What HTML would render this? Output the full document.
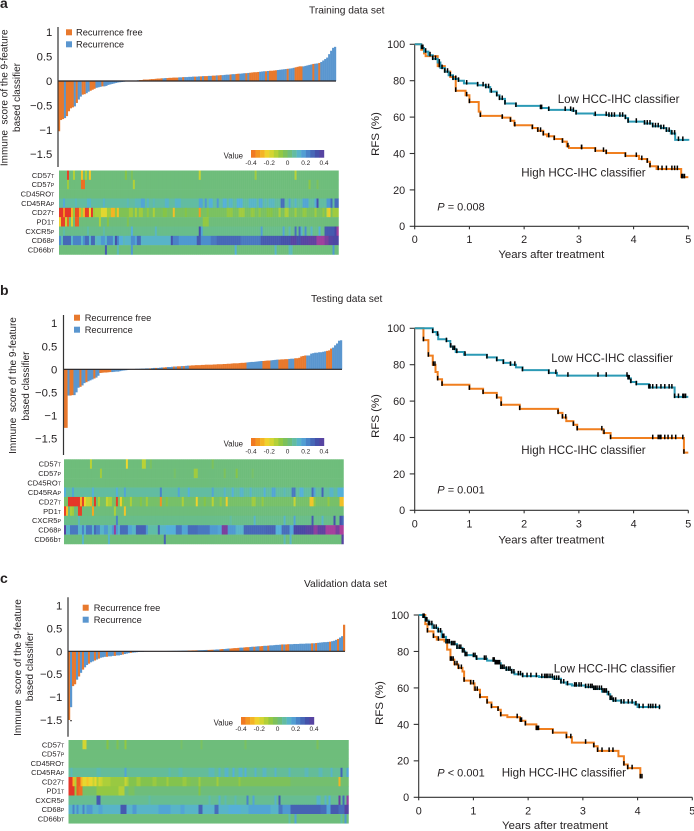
<!DOCTYPE html>
<html lang="en">
<head>
<meta charset="utf-8">
<title>Immune score classifier and recurrence-free survival</title>
<style>
html,body{margin:0;padding:0;background:#fff;}
svg{display:block;font-family:"Liberation Sans",Arial,sans-serif;fill:#231f20;filter:blur(0.3px);}
</style>
</head>
<body>
<svg id="figure" xmlns="http://www.w3.org/2000/svg" width="694" height="831" viewBox="0 0 694 831">
  <rect x="0" y="0" width="694" height="831" fill="#fff"/>

  <text x="0" y="8" font-size="14" font-weight="bold">a</text>
  <text x="0" y="295" font-size="14" font-weight="bold">b</text>
  <text x="0" y="583" font-size="14" font-weight="bold">c</text>

  <text x="309" y="13.5" font-size="10.2">Training data set</text>
  <text x="311" y="302" font-size="10.2">Testing data set</text>
  <text x="304" y="587" font-size="10.2">Validation data set</text>

  <text transform="translate(7.7,97.8) rotate(-90)" text-anchor="middle" font-size="10">Immune&#160; score of the 9-feature</text>
  <text transform="translate(20,97.5) rotate(-90)" text-anchor="middle" font-size="10">based classifier</text>
  <text transform="translate(16,385.5) rotate(-90)" text-anchor="middle" font-size="10">Immune&#160; score of the 9-feature</text>
  <text transform="translate(29,386) rotate(-90)" text-anchor="middle" font-size="10">based classifier</text>
  <text transform="translate(21,667.5) rotate(-90)" text-anchor="middle" font-size="10">Immune&#160; score of the 9-feature</text>
  <text transform="translate(33,666.7) rotate(-90)" text-anchor="middle" font-size="10">based classifier</text>

  <rect x="66" y="29.3" width="6" height="6" fill="#e8792d"/>
  <text x="76" y="35.7" font-size="9.3">Recurrence free</text>
  <rect x="66" y="41.3" width="6" height="6" fill="#5a96cf"/>
  <text x="76" y="47.5" font-size="9.3">Recurrence</text>
  <rect x="74" y="314.7" width="6" height="6" fill="#e8792d"/>
  <text x="84.7" y="321" font-size="9.3">Recurrence free</text>
  <rect x="74" y="326.7" width="6" height="6" fill="#5a96cf"/>
  <text x="84.7" y="333" font-size="9.3">Recurrence</text>
  <rect x="82.7" y="604.7" width="6" height="6" fill="#e8792d"/>
  <text x="93.7" y="611" font-size="9.3">Recurrence free</text>
  <rect x="82.7" y="616.7" width="6" height="6" fill="#5a96cf"/>
  <text x="93.7" y="623" font-size="9.3">Recurrence</text>

  <text x="243" y="158.3" text-anchor="end" font-size="7.8">Value</text>
  <text x="243" y="446.7" text-anchor="end" font-size="7.8">Value</text>
  <text x="233" y="725.7" text-anchor="end" font-size="7.8">Value</text>

  <text transform="translate(379,134) rotate(-90)" text-anchor="middle" font-size="11.4">RFS (%)</text>
  <text transform="translate(379,416) rotate(-90)" text-anchor="middle" font-size="11.4">RFS (%)</text>
  <text transform="translate(383,703) rotate(-90)" text-anchor="middle" font-size="11.4">RFS (%)</text>
  <text x="551.3" y="258" text-anchor="middle" font-size="11.4">Years after treatment</text>
  <text x="551.3" y="543.5" text-anchor="middle" font-size="11.4">Years after treatment</text>
  <text x="555" y="829" text-anchor="middle" font-size="11.4">Years after treatment</text>

  <text x="557.7" y="103" font-size="11.6">Low HCC-IHC classifier</text>
  <text x="521.3" y="176.7" font-size="11.6">High HCC-IHC classifier</text>
  <text x="437.3" y="210.7" font-size="11"><tspan font-style="italic">P</tspan> = 0.008</text>
  <text x="551.3" y="362" font-size="11.6">Low HCC-IHC classifier</text>
  <text x="521.3" y="454" font-size="11.6">High HCC-IHC classifier</text>
  <text x="437.3" y="493.3" font-size="11"><tspan font-style="italic">P</tspan> = 0.001</text>
  <text x="553.7" y="672.3" font-size="11.6">Low HCC-IHC classifier</text>
  <text x="501.7" y="776.7" font-size="11.6">High HCC-IHC classifier</text>
  <text x="437.3" y="776.7" font-size="11"><tspan font-style="italic">P</tspan> &lt; 0.001</text>

  <rect x="70" y="720.3" width="2" height="0.9" fill="#231f20"/>
</svg>

<script>
// ---------- shared tick labels ----------
const scoreTicks = [1, 0.5, 0, -0.5, -1, -1.5];
const scoreTickLabels = ['1', '0.5', '0', '\u22120.5', '\u22121', '\u22121.5'];
const rfsTicks = [0, 20, 40, 60, 80, 100];
const yearTicks = [0, 1, 2, 3, 4, 5];
const colorbarTicks = [-0.4, -0.2, 0, 0.2, 0.4];
const colorbarSteps = [-0.4, -0.35, -0.3, -0.25, -0.2, -0.15, -0.1, -0.05, 0, 0.05, 0.1, 0.15, 0.2, 0.25, 0.3, 0.36];
const heatRowNames = ['CD57', 'CD57', 'CD45RO', 'CD45RA', 'CD27', 'PD1', 'CXCR5', 'CD68', 'CD66b'];
const heatRowSuffixes = ['T', 'P', 'T', 'P', 'T', 'T', 'P', 'P', 'T'];

// ---------- waterfall scores, one per patient column ----------
const scoresA = [-1.03,-.8,-.78,-.76,-.72,-.62,-.56,-.54,-.52,-.45,-.38,-.32,-.28,-.27,-.25,-.22,-.2,-.18,-.16,-.14,-.13,-.12,-.11,-.11,-.1,-.08,-.07,-.06,-.05,-.04,-.03,-.025,-.02,-.015,-.01,-.005,.005,.005,.01,.01,.015,.02,.02,.03,.03,.03,.035,.04,.04,.045,.05,.05,.055,.055,.06,.06,.065,.065,.07,.07,.07,.075,.075,.08,.08,.08,.085,.085,.09,.09,.09,.095,.095,.1,.1,.1,.105,.105,.11,.11,.115,.115,.12,.12,.125,.13,.13,.135,.14,.14,.145,.15,.15,.155,.16,.16,.165,.17,.175,.18,.18,.185,.19,.195,.2,.2,.205,.21,.21,.215,.22,.225,.23,.235,.24,.245,.25,.255,.26,.27,.28,.29,.3,.3,.3,.31,.32,.33,.34,.35,.355,.36,.37,.39,.42,.45,.48,.55,.62,.68,.7];
const recurrenceFreeA = [[0,2],[4,7],[9,9],[12,13],[16,18],[22,22],[41,44],[45,49],[50,52],[55,58],[59,59],[60,60],[63,63],[69,69],[72,72],[74,75],[78,79],[81,82],[87,87],[90,91],[95,95],[97,101],[105,105],[107,110],[116,116],[120,123],[129,129],[132,132]];
const scoresB = [-1.27,-1.27,-.57,-.57,-.56,-.56,-.5,-.4,-.38,-.35,-.3,-.28,-.26,-.24,-.22,-.2,-.18,-.14,-.08,-.075,-.07,-.07,-.065,-.06,-.06,-.055,-.05,-.05,-.04,-.03,-.025,-.02,-.01,-.005,.005,.005,.01,.01,.012,.015,.015,.02,.02,.02,.025,.03,.03,.03,.035,.04,.04,.045,.05,.05,.055,.06,.06,.065,.065,.07,.07,.075,.08,.08,.085,.085,.09,.09,.09,.095,.095,.1,.1,.1,.1,.105,.105,.11,.11,.11,.115,.115,.12,.12,.125,.13,.13,.13,.135,.14,.14,.145,.15,.155,.16,.16,.165,.17,.175,.18,.18,.185,.19,.19,.195,.2,.205,.21,.21,.215,.215,.22,.22,.225,.23,.23,.24,.24,.25,.28,.29,.3,.3,.3,.34,.35,.36,.36,.37,.37,.38,.39,.4,.41,.45,.47,.52,.56,.62,.63];
const recurrenceFreeB = [[0,1],[3,4],[8,8],[11,11],[15,15],[18,23],[43,43],[46,46],[50,51],[55,55],[57,58],[60,60],[63,69],[70,84],[85,91],[100,103],[108,110],[111,112],[116,121],[132,134]];
const scoresC = [-1.5,-1.22,-.76,-.72,-.62,-.55,-.47,-.4,-.35,-.3,-.27,-.24,-.22,-.2,-.18,-.16,-.14,-.13,-.12,-.12,-.11,-.11,-.1,-.1,-.09,-.09,-.08,-.07,-.06,-.05,-.04,-.035,-.03,-.025,-.02,-.015,-.01,-.01,-.005,-.005,-.003,-.002,.001,.002,.003,.004,.005,.005,.006,.007,.008,.008,.009,.01,.01,.012,.012,.014,.015,.016,.018,.018,.02,.02,.022,.024,.025,.026,.028,.03,.03,.032,.034,.035,.04,.04,.045,.05,.05,.055,.06,.06,.065,.07,.07,.075,.08,.08,.085,.09,.09,.095,.1,.1,.105,.11,.11,.115,.12,.12,.125,.13,.13,.135,.14,.14,.145,.15,.15,.15,.155,.155,.155,.16,.16,.16,.165,.165,.165,.17,.17,.17,.175,.175,.18,.185,.19,.195,.2,.2,.205,.21,.22,.23,.25,.27,.3,.33,.58];
const recurrenceFreeC = [[0,0],[2,3],[5,5],[7,7],[10,10],[13,13],[15,15],[19,19],[23,23],[27,27],[31,31],[60,64],[70,72],[76,77],[81,85],[88,90],[93,93],[96,97],[100,100],[107,107],[109,110],[122,122],[124,124],[131,131],[135,135],[138,138]];

// ---------- heatmap values as [firstColumn, lastColumn, value]; unlisted columns are 0 ----------
const heatA_CD57T = [[4,4,-.5],[7,7,-.15],[11,11,-.28],[13,13,-.14],[15,15,-.27],[33,33,-.08],[36,36,-.05],[70,70,-.18],[98,98,-.12],[118,118,-.16]];
const heatA_CD57P = [[4,4,-.12],[11,12,-.42],[37,37,-.15],[125,125,-.09],[129,129,-.05]];
const heatA_CD45RO = [];
const heatA_CD45RA = [[0,139,.05],[2,2,.13],[8,8,.08],[14,15,.1],[22,22,.1],[34,34,.08],[38,40,.08],[41,42,.14],[44,44,.1],[47,47,.08],[53,54,.1],[58,60,.1],[70,71,.14],[73,73,.16],[75,76,.12],[79,79,.16],[82,83,.12],[85,86,.1],[89,91,.12],[95,98,.1],[100,101,.13],[103,103,.08],[105,107,.09],[111,112,.24],[115,115,.14],[118,118,.1],[122,124,.14],[128,128,.13],[129,129,.3],[134,135,.16],[136,136,.25],[138,139,.24]];
const heatA_CD27 = [[0,139,-.04],[0,1,-.52],[2,2,-.36],[3,5,-.52],[6,6,-.3],[7,7,-.1],[8,9,-.48],[10,10,-.32],[11,11,-.12],[12,12,-.3],[13,14,-.5],[15,15,-.24],[16,16,-.52],[17,17,-.12],[18,20,-.14],[21,23,-.22],[24,25,-.12],[26,27,-.3],[28,28,-.1],[29,29,-.28],[30,34,-.06],[35,36,-.12],[38,38,-.14],[40,41,-.12],[44,44,-.1],[47,47,-.14],[52,53,-.08],[57,57,-.28],[63,63,-.08],[70,70,-.34],[74,74,-.08],[84,86,-.1],[90,92,-.12],[96,97,-.1],[100,100,-.1],[104,106,-.08],[110,110,-.14],[113,114,-.14],[118,118,-.12],[122,123,-.1],[128,128,-.12],[132,132,-.1],[134,134,-.2],[135,135,-.26],[137,139,-.12]];
const heatA_PD1 = [[0,0,-.25],[1,2,-.5],[3,3,-.18],[4,4,-.44],[6,6,-.2],[8,9,-.45],[20,20,-.14],[24,24,-.08],[34,34,-.06],[72,74,-.1]];
const heatA_CXCR5 = [[0,139,.02],[2,2,.06],[14,14,.06],[22,22,.06],[36,36,.12],[48,48,.09],[70,70,.3],[71,71,.14],[101,101,.15],[112,112,.14],[115,115,.08],[118,118,.24],[120,120,.24],[121,121,.1],[123,123,.18],[126,126,.1],[130,130,.12],[133,137,.28],[138,138,.32],[139,139,.46]];
const heatA_CD68 = [[0,139,.1],[0,0,.18],[1,1,.08],[2,5,.25],[6,6,.1],[7,10,.2],[11,11,.1],[12,12,.18],[13,14,.24],[15,15,.1],[16,17,.25],[18,18,.08],[21,22,.16],[24,26,.2],[27,27,.1],[28,28,.3],[29,29,.2],[30,31,.12],[32,32,.08],[36,37,.18],[38,38,.14],[39,40,.24],[41,41,.1],[46,52,.1],[56,56,.3],[57,59,.2],[60,68,.16],[69,70,.28],[71,75,.18],[76,78,.22],[79,90,.25],[91,100,.22],[101,110,.28],[111,115,.3],[116,118,.36],[119,120,.3],[121,124,.36],[125,128,.38],[129,132,.46],[133,134,.42],[135,136,.36],[137,139,.34]];
const heatA_CD66b = [[23,23,.28],[29,29,.08],[36,36,.16],[88,88,.12],[108,108,.1],[115,116,.08],[137,137,.16]];

const heatB_CD57T = [[13,13,-.16],[31,31,-.24],[39,40,-.16],[43,43,-.04],[74,74,-.05]];
const heatB_CD57P = [[18,18,-.12],[55,55,-.03],[65,66,-.12],[80,80,-.05],[86,86,-.08],[94,94,-.03]];
const heatB_CD45RO = [];
const heatB_CD45RA = [[0,139,.05],[0,0,.12],[4,4,.14],[14,14,.12],[26,26,.12],[30,30,.14],[48,48,.2],[57,57,.14],[62,62,.12],[74,74,.14],[80,80,.1],[84,84,.12],[88,89,.1],[93,93,.1],[100,100,.12],[104,105,.14],[110,110,.08],[114,115,.22],[118,119,.12],[124,124,.24],[125,125,.14],[129,129,.26],[133,134,.1],[137,138,.12],[139,139,.12]];
const heatB_CD27 = [[0,139,-.03],[2,7,-.52],[8,8,-.3],[9,9,-.5],[10,10,-.25],[11,12,-.18],[13,13,-.3],[15,15,-.52],[17,17,-.14],[21,21,-.18],[22,23,-.14],[26,26,-.5],[28,28,-.25],[29,29,-.08],[33,33,-.14],[38,38,-.08],[41,41,-.12],[48,48,-.36],[51,51,-.08],[59,59,-.14],[66,66,-.25],[70,70,-.08],[74,74,-.16],[78,78,-.1],[81,81,-.26],[94,95,-.12],[99,99,-.1],[115,115,-.18],[123,124,-.27],[125,125,-.1],[132,132,-.1],[138,139,-.28]];
const heatB_PD1 = [[0,0,-.5],[1,1,-.28],[3,3,-.14],[4,4,-.12],[7,8,-.5],[14,14,-.32],[25,25,-.14],[30,30,-.27]];
const heatB_CXCR5 = [[0,139,.02],[7,7,.08],[26,26,.2],[83,83,.05],[95,95,.1],[110,110,.1],[115,115,.14],[124,124,.28],[129,129,.1],[135,135,.3],[138,138,.3],[139,139,.25]];
const heatB_CD68 = [[0,139,.1],[0,0,.36],[1,2,.1],[3,6,.22],[7,8,.1],[9,9,.2],[11,13,.22],[14,14,.1],[15,15,.25],[16,17,.2],[18,19,.1],[20,21,.16],[22,22,.08],[24,24,.16],[25,25,.45],[26,26,.16],[27,27,.1],[28,31,.24],[32,33,.14],[34,35,.1],[36,40,.26],[41,41,.16],[42,46,.06],[47,47,.26],[48,50,.1],[51,55,.12],[56,58,.22],[59,61,.14],[62,66,.24],[67,72,.22],[73,76,.16],[77,78,.14],[79,81,.42],[82,85,.16],[86,89,.1],[90,100,.25],[101,105,.26],[106,108,.12],[109,112,.24],[113,114,.14],[115,120,.33],[121,124,.36],[125,126,.44],[127,130,.38],[131,135,.47],[136,137,.42],[138,139,.48]];
const heatB_CD66b = [[9,9,.1],[22,22,.1],[50,50,.26],[110,110,.08],[113,113,.1],[139,139,.36]];

const heatC_CD57T = [[7,8,-.2],[19,19,-.08],[24,24,-.06],[28,28,-.1],[56,56,-.03],[66,66,-.04],[88,88,-.04],[124,124,-.05]];
const heatC_CD57P = [];
const heatC_CD45RO = [];
const heatC_CD45RA = [[0,139,.04],[1,1,.08],[14,15,.07],[28,28,.14],[50,50,.07],[55,56,.07],[70,72,.08],[75,75,.1],[78,79,.1],[82,82,.12],[85,86,.1],[88,88,.12],[93,93,.1],[97,98,.09],[103,103,.1],[110,110,.09],[118,119,.08],[125,126,.08],[131,131,.1],[136,136,.26],[139,139,.14]];
const heatC_CD27 = [[0,139,-.02],[0,1,-.52],[2,2,-.3],[3,3,-.15],[4,5,-.45],[6,6,-.3],[7,13,-.23],[9,9,-.27],[12,12,-.18],[14,14,-.14],[15,15,-.2],[16,16,-.18],[17,20,-.14],[21,27,-.11],[28,28,-.18],[29,29,-.14],[30,60,-.07],[34,35,-.12],[42,43,-.11],[49,49,-.12],[57,58,-.11],[61,110,-.05],[65,65,-.12],[74,74,-.12],[85,85,-.1],[135,135,-.3]];
const heatC_PD1 = [[0,2,-.52],[3,3,-.1],[4,4,-.45],[5,6,-.42],[7,13,-.03],[14,24,-.1],[25,27,-.15],[30,32,-.04],[65,65,-.08]];
const heatC_CXCR5 = [[0,139,.03],[14,15,.28],[40,40,.06],[70,70,.07],[75,75,.1],[78,78,.07],[83,83,.07],[89,89,.2],[92,92,.14],[105,105,.28],[103,103,.1],[124,125,.1],[128,128,.1],[130,130,.12],[135,135,.4],[137,137,.25],[139,139,.45]];
const heatC_CD68 = [[0,139,.1],[2,2,.2],[4,4,.18],[7,7,.2],[9,11,.16],[15,16,.14],[26,28,.28],[32,33,.16],[45,50,.14],[56,57,.14],[65,66,.26],[73,74,.24],[80,85,.12],[90,100,.14],[105,106,.22],[107,110,.16],[111,125,.26],[126,128,.24],[129,130,.14],[131,134,.28],[135,137,.24],[138,139,.36]];
const heatC_CD66b = [[110,110,.06],[113,113,.14],[136,136,.06],[138,138,.16]];

// ---------- Kaplan-Meier steps as [years, percent] ----------
const lowCurveA = [[0,100],[.12,98],[.17,96],[.25,94],[.33,92],[.42,90],[.47,87],[.55,85],[.62,83],[.7,81],[.8,80],[.9,78.5],[1.15,77.5],[1.3,76.5],[1.38,74],[1.5,72],[1.55,70],[1.65,67.5],[1.85,66.2],[2.3,65],[2.45,64],[2.88,63.5],[2.95,62],[3.28,61.2],[3.55,60.8],[3.85,59.5],[3.9,57.5],[4.2,56.5],[4.35,55],[4.5,54],[4.6,52.5],[4.68,51],[4.76,47.5],[5,47]];
const highCurveA = [[0,100],[.12,97],[.17,95],[.2,93.5],[.42,88],[.55,85],[.65,82],[.75,74.5],[.93,72],[1,68.3],[1.17,63],[1.2,60.7],[1.6,59.7],[1.75,58],[1.82,55.5],[2.15,54],[2.25,52.5],[2.35,50.5],[2.42,49.5],[2.55,48],[2.7,46.5],[2.78,44],[2.82,43],[3.3,41.5],[3.5,40.3],[3.85,38.7],[4.1,37],[4.25,35.5],[4.3,33],[4.42,31.5],[4.87,27],[5,27]];
const lowCensorA = [.13,.15,.2,.28,.33,.38,.45,.5,.55,.6,.65,.7,.75,.8,.95,1.15,1.25,1.3,1.35,1.4,1.5,1.55,1.6,1.65,1.85,2.3,2.32,2.45,2.75,2.85,2.9,2.95,3.3,3.5,3.55,3.6,3.65,3.75,3.8,3.85,3.9,4.05,4.2,4.25,4.3,4.35,4.4,4.45,4.5,4.55,4.6,4.65,4.7,4.75,4.82,4.9];
const highCensorA = [.45,.75,.95,1,1.2,1.6,1.75,1.83,2.15,2.25,2.3,2.35,2.45,2.55,2.7,2.8,3.05,3.05,3.3,3.45,3.5,3.85,4.05,4.15,4.25,4.3,4.45,4.52,4.6,4.7,4.75,4.8,4.88,4.9,4.93];

const lowCurveB = [[0,100],[.33,98],[.4,96.5],[.43,94],[.58,93],[.65,90],[.7,88.7],[.75,87],[.9,85.5],[1.32,84],[1.5,82.5],[1.62,81],[1.75,80],[1.85,78.5],[1.97,77],[2.45,75.5],[2.6,74],[3.9,72.5],[3.95,70.5],[4.05,69.3],[4.28,67.5],[4.75,62.3],[5,62.3]];
const highCurveB = [[0,100],[.16,93.5],[.25,85],[.33,80],[.38,76],[.42,72],[.5,69],[1,66.8],[1.25,64.5],[1.5,62],[1.58,58],[1.92,55.7],[2.62,53.5],[2.7,51],[2.77,49],[2.9,47],[2.97,44.5],[3.45,42.5],[3.58,39.7],[4.92,31.7],[5,31.7]];
const lowCensorB = [.33,.42,.58,.66,.7,.73,.77,.92,1.32,1.5,1.62,1.75,1.83,1.97,2.45,2.58,2.8,3.35,3.5,3.88,3.9,3.92,3.95,4.05,4.28,4.3,4.35,4.42,4.5,4.57,4.65,4.7,4.75,4.82,4.9,4.92,4.95];
const highCensorB = [.16,.25,.34,.37,.42,.5,1,1.25,1.5,1.58,1.92,2.62,2.7,2.76,2.9,2.97,3.42,3.46,3.58,4.35,4.45,4.48,4.5,4.57,4.63,4.7,4.77,4.9,4.92];

const lowCurveC = [[0,100],[.08,99],[.12,97],[.18,95],[.25,93],[.35,91],[.42,88],[.5,85],[.6,84],[.7,82],[.8,80],[.85,78],[1,77.5],[1.05,76],[1.25,75],[1.4,73.5],[1.5,71],[1.6,70],[1.7,68.5],[1.75,67.5],[1.9,66.5],[2.2,66],[2.45,65],[2.6,63],[2.7,62],[2.8,61.3],[3.05,60.5],[3.2,59.5],[3.35,58],[3.45,56.5],[3.5,54],[3.55,53],[3.7,52],[3.95,51],[4,49.5],[4.4,49]];
const highCurveC = [[0,100],[.12,95],[.16,91],[.27,88],[.33,86.5],[.47,85.5],[.52,81],[.58,75.5],[.65,73],[.72,71],[.8,69],[.83,64],[.95,62.5],[1.02,59],[1.12,55],[1.25,52],[1.33,49.5],[1.45,48],[1.5,45],[1.62,44],[1.85,42],[1.95,40],[2.15,37.5],[2.45,35.5],[2.7,33],[2.8,30],[3.2,28],[3.27,25.5],[3.65,22.5],[3.75,18],[3.82,16],[4.05,11],[4.09,11]];
const lowCensorC = [.08,.1,.13,.15,.18,.2,.24,.28,.32,.36,.4,.44,.46,.5,.53,.56,.6,.63,.66,.7,.74,.77,.8,.83,.85,.88,1,1.03,1.06,1.2,1.23,1.36,1.38,1.4,1.42,1.44,1.46,1.48,1.5,1.53,1.56,1.6,1.64,1.67,1.7,1.74,1.82,1.86,1.9,1.98,2.05,2.15,2.25,2.3,2.33,2.36,2.4,2.44,2.48,2.52,2.56,2.6,2.65,2.72,2.85,2.88,2.93,2.97,3.05,3.1,3.14,3.17,3.2,3.23,3.26,3.3,3.34,3.37,3.4,3.43,3.47,3.5,3.53,3.56,3.6,3.7,3.75,3.83,3.9,3.97,4.03,4.1,4.2,4.24,4.28,4.33,4.4];
const highCensorC = [.16,.27,.36,.58,.6,.63,.66,.7,.73,.78,.83,.95,1,1.03,1.07,1.12,1.25,1.33,1.45,1.5,1.8,1.86,1.88,1.95,2.15,2.17,2.19,2.45,2.7,2.78,3.05,3.2,3.27,3.35,3.48,3.55,3.75,3.82,3.9,4.05,4.08];

const SVG_NS = 'http://www.w3.org/2000/svg';
const svg = document.getElementById('figure');

function make(tag, attrs, parent) {
  const el = document.createElementNS(SVG_NS, tag);
  for (const k in attrs) el.setAttribute(k, attrs[k]);
  (parent || svg).appendChild(el);
  return el;
}
function linear(d0, d1, r0, r1) { return v => r0 + (v - d0) * (r1 - r0) / (d1 - d0); }

const colorStops = [[-.55,[226,37,42]],[-.42,[238,111,36]],[-.32,[246,168,32]],[-.24,[238,216,46]],[-.16,[185,210,54]],[-.08,[134,196,71]],[0,[110,189,123]],[.06,[95,188,168]],[.12,[85,176,216]],[.18,[76,142,205]],[.25,[70,104,183]],[.32,[69,72,165]],[.4,[106,63,158]],[.5,[192,64,155]]];
function heatColor(v) {
  if (v <= colorStops[0][0]) return 'rgb(' + colorStops[0][1].join(',') + ')';
  for (let i = 1; i < colorStops.length; i++) {
    if (v <= colorStops[i][0]) {
      const a = colorStops[i - 1], b = colorStops[i];
      const t = (v - a[0]) / (b[0] - a[0]);
      return 'rgb(' + a[1].map((c, j) => Math.round(c + (b[1][j] - c) * t)).join(',') + ')';
    }
  }
  return 'rgb(' + colorStops[colorStops.length - 1][1].join(',') + ')';
}

function drawWaterfall(p, scores, freeRanges) {
  const y = linear(0, 1, p.zeroY, p.oneY);
  const barW = (p.x1 - p.x0) / scores.length;
  scores.forEach((s, i) => {
    const free = freeRanges.some(r => i >= r[0] && i <= r[1]);
    const rect = make('rect', {
      x: p.x0 + i * barW, y: Math.min(y(0), y(s)), width: barW + 0.2,
      height: Math.abs(y(s) - y(0)), fill: free ? '#e8792d' : '#5a96cf'
    });
    
    
  });
  const zero = make('line', { x1: p.x0, x2: p.x1, y1: y(0), y2: y(0), stroke: '#231f20', 'stroke-width': 1.2 });
  
  
  const axis = make('line', { x1: p.x0, x2: p.x0, y1: p.axisTop, y2: p.axisBottom, stroke: '#333', 'stroke-width': 1.2 });
  
  
  scoreTicks.forEach((t, i) => {
    const label = make('text', { x: p.labelX, y: y(t) + 4, 'text-anchor': 'end', 'font-size': 11.3 });
    label.textContent = scoreTickLabels[i];
    
    
  });
}

function drawHeatmap(p, rows) {
  const cols = 140;
  const cw = (p.x1 - p.x0) / cols;
  const rh = (p.y1 - p.y0) / rows.length;
  rows.forEach((runs, r) => {
    const vals = new Array(cols).fill(0);
    runs.forEach(run => { for (let c = run[0]; c <= run[1] && c < cols; c++) vals[c] = run[2]; });
    vals.forEach((v, c) => {
      const cell = make('rect', {
        x: p.x0 + c * cw, y: p.y0 + r * rh, width: cw + 0.25, height: rh + 0.25, fill: heatColor(v)
      });
      
      
    });
    const label = make('text', { x: p.labelX, y: p.y0 + (r + 0.5) * rh + 2.7, 'text-anchor': 'end', 'font-size': 7.5 });
    
    
    label.appendChild(document.createTextNode(heatRowNames[r]));
    const small = make('tspan', { 'font-size': 5.3 }, label);
    small.textContent = heatRowSuffixes[r];
  });
}

function drawColorbar(p) {
  const x = linear(-0.4, 0.4, p.x0, p.x1);
  const w = (p.x1 - p.x0) / colorbarSteps.length;
  colorbarSteps.forEach((v, i) => {
    const block = make('rect', { x: p.x0 + i * w, y: p.y, width: w + 0.2, height: p.h, fill: heatColor(v) });
    
    
  });
  colorbarTicks.forEach(t => {
    const label = make('text', { x: x(t), y: p.labelY, 'text-anchor': 'middle', 'font-size': 6.5 });
    label.textContent = String(t);
    
    
  });
}

function survivalAt(curve, t) {
  let s = curve[0][1];
  for (const pt of curve) { if (pt[0] <= t) s = pt[1]; else break; }
  return s;
}

function drawSurvival(p, low, lowCensor, high, highCensor) {
  const x = linear(0, 5, p.x0, p.x5);
  const y = linear(0, 100, p.y0, p.y100);
  function stepPath(curve) {
    let d = 'M' + x(curve[0][0]) + ' ' + y(curve[0][1]);
    for (let i = 1; i < curve.length; i++) d += 'H' + x(curve[i][0]) + 'V' + y(curve[i][1]);
    return d;
  }
  function censors(curve, times, name) {
    times.forEach(t => {
      const py = y(survivalAt(curve, t));
      const mark = make('line', { x1: x(t), x2: x(t), y1: py - 3.4, y2: py + 1.2, stroke: '#000', 'stroke-width': 1.5 });
      
      
    });
  }
  const yAxis = make('path', { d: 'M' + p.x0 + ' ' + y(100) + 'V' + y(0) + 'H' + x(5), fill: 'none', stroke: '#333', 'stroke-width': 1.1 });
  
  
  rfsTicks.forEach(t => {
    const tick = make('line', { x1: p.x0 - 5, x2: p.x0, y1: y(t), y2: y(t), stroke: '#333', 'stroke-width': 1.1 });
    
    
    const label = make('text', { x: p.x0 - 9.5, y: y(t) + 3.9, 'text-anchor': 'end', 'font-size': 10.8 });
    label.textContent = t;
    
    
  });
  yearTicks.forEach(t => {
    const tick = make('line', { x1: x(t), x2: x(t), y1: y(0), y2: y(0) + 3, stroke: '#333', 'stroke-width': 1.1 });
    
    
    const label = make('text', { x: x(t), y: y(0) + p.xLabelOffset, 'text-anchor': 'middle', 'font-size': 10.8 });
    label.textContent = t;
    
    
  });
  const highLine = make('path', { d: stepPath(high), fill: 'none', stroke: '#f07f1f', 'stroke-width': 2 });
  
  
  const lowLine = make('path', { d: stepPath(low), fill: 'none', stroke: '#2b9ab5', 'stroke-width': 2 });
  
  
  censors(high, highCensor, 'high-censor-mark');
  censors(low, lowCensor, 'low-censor-mark');
}

// Panel a
drawWaterfall({ x0: 58, x1: 336, zeroY: 81, oneY: 32.2, axisTop: 27, axisBottom: 167, labelX: 52.3 }, scoresA, recurrenceFreeA);
drawHeatmap({ x0: 59, x1: 338.5, y0: 170.5, y1: 254.5, labelX: 54.3 }, [heatA_CD57T, heatA_CD57P, heatA_CD45RO, heatA_CD45RA, heatA_CD27, heatA_PD1, heatA_CXCR5, heatA_CD68, heatA_CD66b]);
drawColorbar({ x0: 251, x1: 324, y: 150, h: 7.7, labelY: 165 });
drawSurvival({ x0: 414.7, x5: 688.3, y0: 226.3, y100: 44.3, xLabelOffset: 16.5 }, lowCurveA, lowCensorA, highCurveA, highCensorA);

// Panel b
drawWaterfall({ x0: 63.5, x1: 342, zeroY: 369.3, oneY: 323.2, axisTop: 315, axisBottom: 455, labelX: 57.3 }, scoresB, recurrenceFreeB);
drawHeatmap({ x0: 64, x1: 343.5, y0: 459.3, y1: 544, labelX: 61 }, [heatB_CD57T, heatB_CD57P, heatB_CD45RO, heatB_CD45RA, heatB_CD27, heatB_PD1, heatB_CXCR5, heatB_CD68, heatB_CD66b]);
drawColorbar({ x0: 251, x1: 324, y: 438, h: 8, labelY: 453.3 });
drawSurvival({ x0: 414.7, x5: 688.3, y0: 510.3, y100: 328.3, xLabelOffset: 17.4 }, lowCurveB, lowCensorB, highCurveB, highCensorB);

// Panel c
drawWaterfall({ x0: 68, x1: 345, zeroY: 651.3, oneY: 605.5, axisTop: 597.3, axisBottom: 736.7, labelX: 62.3 }, scoresC, recurrenceFreeC);
drawHeatmap({ x0: 68.5, x1: 348.5, y0: 740, y1: 823.3, labelX: 64.3 }, [heatC_CD57T, heatC_CD57P, heatC_CD45RO, heatC_CD45RA, heatC_CD27, heatC_PD1, heatC_CXCR5, heatC_CD68, heatC_CD66b]);
drawColorbar({ x0: 241, x1: 314, y: 717, h: 7.7, labelY: 731 });
drawSurvival({ x0: 418.7, x5: 692.3, y0: 797.3, y100: 615, xLabelOffset: 17.4 }, lowCurveC, lowCensorC, highCurveC, highCensorC);
</script>
</body>
</html>
